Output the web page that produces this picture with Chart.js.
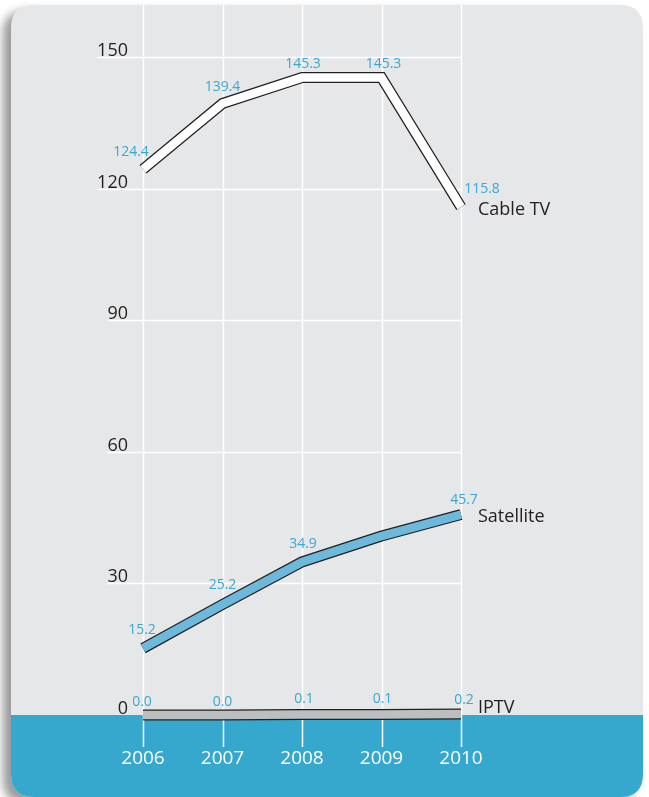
<!DOCTYPE html>
<html>
<head>
<meta charset="utf-8">
<script src="https://cdn.jsdelivr.net/npm/chart.js@4.4.1/dist/chart.umd.min.js"></script>
<style>
html, body { margin: 0; padding: 0; background: #fff; }
canvas { display: block; }
</style>
</head>
<body>
<canvas id="myChart" width="649" height="797"></canvas>
<script>
const years = ['2006', '2007', '2008', '2009', '2010'];
const cableTV = [124.4, 139.4, 145.3, 145.3, 115.8];
const satellite = [15.2, 25.2, 34.9, 40.8, 45.7];
const iptv = [0.0, 0.0, 0.1, 0.1, 0.2];
const yTicks = [0, 30, 60, 90, 120, 150];
const seriesNames = ['Cable TV', 'Satellite', 'IPTV'];

const textDark = '#231f20';
const labelBlue = '#3aa8d2';
const bandBlue = '#36a8ce';
const panelGrey = '#e6e7e8';
const fontFam = '"Open Sans", "DejaVu Sans", sans-serif';

// where each value label sits relative to its point (px)
const labelOffsets = {
  'Cable TV': [[-12, -17], [0, -16], [1, -14], [2, -14], [21, -18]],
  'Satellite': [[-1, -18], [0, -19], [1, -18], null, [3, -15]],
  'IPTV': [[-1, -13], [0, -13], [2, -16], [1, -16], [3, -14]]
};
const nameOffsets = { 'Cable TV': 3, 'Satellite': 2, 'IPTV': -6 };

function roundRect(c, x, y, w, h, r) {
  c.beginPath();
  c.moveTo(x + r, y);
  c.lineTo(x + w - r, y);
  c.quadraticCurveTo(x + w, y, x + w, y + r);
  c.lineTo(x + w, y + h - r);
  c.quadraticCurveTo(x + w, y + h, x + w - r, y + h);
  c.lineTo(x + r, y + h);
  c.quadraticCurveTo(x, y + h, x, y + h - r);
  c.lineTo(x, y + r);
  c.quadraticCurveTo(x, y, x + r, y);
  c.closePath();
}

const panelPlugin = {
  id: 'panel',
  beforeDraw(chart) {
    const c = chart.ctx;
    const xs = chart.scales.x, ys = chart.scales.y;
    const zeroY = ys.getPixelForValue(0);
    c.save();
    c.shadowColor = 'rgba(0,0,0,0.4)';
    c.shadowBlur = 10;
    c.shadowOffsetX = -8;
    c.shadowOffsetY = 6;
    roundRect(c, 11, 5, 632, 792, 23);
    c.fillStyle = panelGrey;
    c.fill();
    c.shadowColor = 'transparent';
    c.clip();
    c.fillStyle = bandBlue;
    c.fillRect(0, zeroY, 649, 797 - zeroY);

    // vertical grid
    c.strokeStyle = '#ffffff';
    c.lineWidth = 1.5;
    years.forEach((yr, i) => {
      const px = Math.round(xs.getPixelForValue(i)) + 0.5;
      c.beginPath();
      c.moveTo(px, 5);
      c.lineTo(px, zeroY + 32);
      c.stroke();
    });

    // horizontal grid + y labels
    const lastX = xs.getPixelForValue(years.length - 1);
    c.font = '18px ' + fontFam;
    c.textAlign = 'right';
    c.textBaseline = 'alphabetic';
    yTicks.forEach(v => {
      const py = Math.round(ys.getPixelForValue(v)) + 0.5;
      const w = c.measureText(String(v)).width;
      if (v > 0) {
        c.beginPath();
        c.moveTo(128 - w, py);
        c.lineTo(lastX, py);
        c.stroke();
      }
      c.fillStyle = textDark;
      c.fillText(String(v), 128, py - 2);
    });

    // x labels
    c.fillStyle = '#ffffff';
    c.font = '19px ' + fontFam;
    c.textAlign = 'center';
    c.textBaseline = 'middle';
    years.forEach((yr, i) => {
      c.fillText(yr, xs.getPixelForValue(i), zeroY + 44);
    });
    c.restore();
  },
  afterDatasetsDraw(chart) {
    const c = chart.ctx;
    const xs = chart.scales.x, ys = chart.scales.y;
    const zeroY = ys.getPixelForValue(0);
    c.save();
    chart.data.datasets.forEach(ds => {
      if (!ds.seriesName) return;
      const offs = labelOffsets[ds.seriesName];
      c.font = '14px ' + fontFam;
      c.fillStyle = labelBlue;
      c.textAlign = 'center';
      c.textBaseline = 'middle';
      ds.data.forEach((v, i) => {
        if (!offs[i]) return;
        const px = xs.getPixelForValue(i) + offs[i][0];
        const py = ys.getPixelForValue(v) + offs[i][1];
        c.fillText(v.toFixed(1), px, py);
      });
      // series name at the end of the line
      const n = ds.data.length - 1;
      c.save();
      c.beginPath();
      c.rect(0, 0, 649, zeroY);
      c.clip();
      c.font = '18px ' + fontFam;
      c.fillStyle = textDark;
      c.textAlign = 'left';
      c.fillText(ds.seriesName, xs.getPixelForValue(n) + 17, ys.getPixelForValue(ds.data[n]) + nameOffsets[ds.seriesName]);
      c.restore();
    });
    c.restore();
  }
};

function tube(data, fill, name) {
  return [
    {
      data: data,
      borderColor: '#231f20',
      borderWidth: 11,
      borderJoinStyle: 'miter',
      pointRadius: 0,
      tension: 0,
      clip: false,
      order: 2
    },
    {
      data: data,
      seriesName: name,
      borderColor: fill,
      borderWidth: 8.5,
      borderJoinStyle: 'miter',
      pointRadius: 0,
      tension: 0,
      clip: false,
      order: 1
    }
  ];
}

const ctx = document.getElementById('myChart');

const myChart = new Chart(ctx, {
  type: 'line',
  data: {
    labels: years,
    datasets: [
      ...tube(cableTV, '#ffffff', seriesNames[0]),
      ...tube(satellite, '#6cb9dc', seriesNames[1]),
      ...tube(iptv, '#bcbec0', seriesNames[2])
    ]
  },
  options: {
    responsive: false,
    animation: false,
    devicePixelRatio: 1,
    layout: {
      padding: { left: 143, right: 188, top: 57, bottom: 82 }
    },
    plugins: {
      legend: { display: false },
      tooltip: { enabled: false }
    },
    scales: {
      x: { display: false, offset: false },
      y: { display: false, min: 0, max: 150, ticks: { stepSize: 30 } }
    }
  },
  plugins: [panelPlugin]
});
</script>
</body>
</html>
